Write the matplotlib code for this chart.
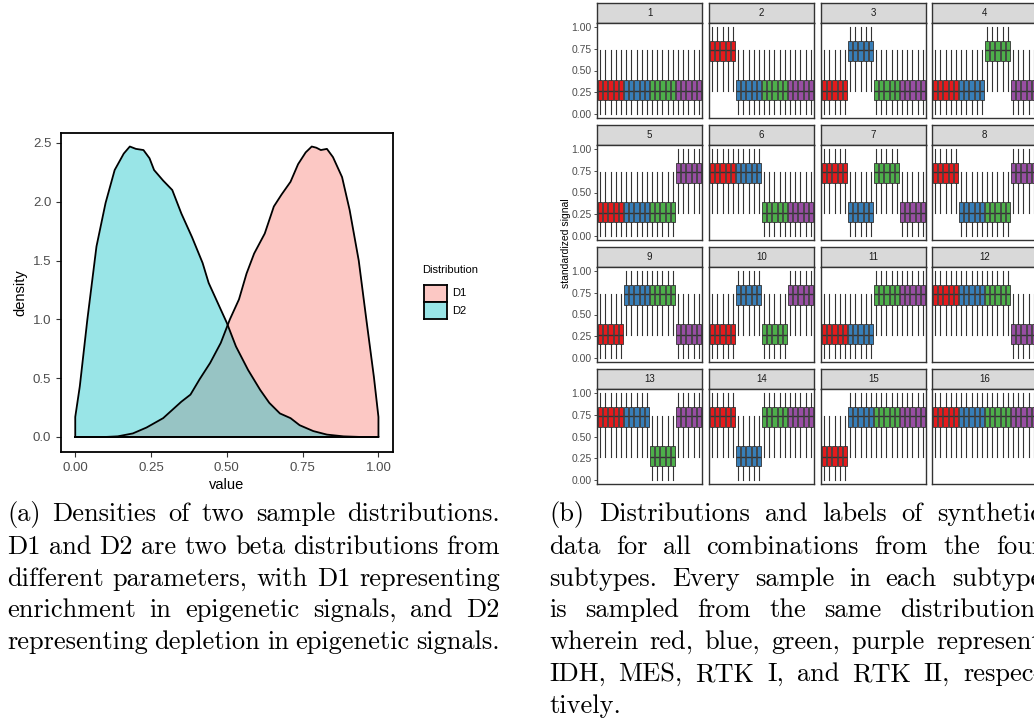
import matplotlib
matplotlib.use("Agg")
import matplotlib.pyplot as plt
from matplotlib.patches import Rectangle

# --- Data -----------------------------------------------------------------

# panel (a): density curves
D1_X = [0.00, 0.10, 0.14, 0.19, 0.235, 0.29, 0.32, 0.35, 0.38, 0.41, 0.445, 0.48, 0.51,
        0.54, 0.565, 0.59, 0.625, 0.655, 0.68, 0.71, 0.735, 0.76, 0.78, 0.795, 0.81,
        0.83, 0.85, 0.88, 0.905, 0.935, 0.96, 0.985, 1.00]
D1_Y = [0.00, 0.00, 0.005, 0.03, 0.08, 0.16, 0.23, 0.30, 0.36, 0.49, 0.63, 0.80, 1.00,
        1.17, 1.39, 1.56, 1.73, 1.96, 2.06, 2.17, 2.32, 2.42, 2.47, 2.46, 2.44,
        2.45, 2.38, 2.21, 1.93, 1.50, 1.00, 0.51, 0.17]
D2_X = [0.00, 0.015, 0.04, 0.07, 0.10, 0.13, 0.16, 0.18, 0.20, 0.225, 0.245, 0.26, 0.29,
        0.32, 0.35, 0.385, 0.42, 0.44, 0.47, 0.50, 0.53, 0.57, 0.61, 0.64,
        0.675, 0.71, 0.74, 0.785, 0.83, 0.885, 0.94, 1.00]
D2_Y = [0.17, 0.43, 1.00, 1.62, 1.99, 2.27, 2.41, 2.47, 2.45, 2.44, 2.37, 2.27, 2.18,
        2.10, 1.90, 1.70, 1.48, 1.31, 1.14, 0.97, 0.77, 0.57, 0.40, 0.29,
        0.20, 0.16, 0.10, 0.05, 0.02, 0.005, 0.0, 0.0]
DIST_NAMES = ["D1", "D2"]
DIST_COLORS = ["#F8766D", "#00BFC4"]

# panel (b): four subtypes, five samples each, 16 combinations of enrichment
SUBTYPES = ["IDH", "MES", "RTK I", "RTK II"]
SUBTYPE_COLORS = ["#E41A1C", "#377EB8", "#4DAF4A", "#984EA3"]
N_SAMPLES = 5
ENRICHED = [
    [], ["IDH"], ["MES"], ["RTK I"],
    ["RTK II"], ["IDH", "MES"], ["IDH", "RTK I"], ["IDH", "RTK II"],
    ["MES", "RTK I"], ["MES", "RTK II"], ["RTK I", "RTK II"], ["IDH", "MES", "RTK I"],
    ["IDH", "MES", "RTK II"], ["IDH", "RTK I", "RTK II"], ["MES", "RTK I", "RTK II"],
    ["IDH", "MES", "RTK I", "RTK II"],
]
# box statistics (whisker low, q1, median, q3, whisker high)
LOW_STATS = [0.00, 0.16, 0.27, 0.39, 0.73]
HIGH_STATS = [0.27, 0.61, 0.74, 0.84, 1.00]
Y_TICKS_B = [0.00, 0.25, 0.50, 0.75, 1.00]

CAPTION_A = [
    "(a) Densities of two sample distributions.",
    "D1 and D2 are two beta distributions from",
    "different parameters, with D1 representing",
    "enrichment in epigenetic signals, and D2",
    "representing depletion in epigenetic signals.",
]
CAPTION_B = [
    "(b) Distributions and labels of synthetic",
    "data for all combinations from the four",
    "subtypes. Every sample in each subtype",
    "is sampled from the same distribution,",
    "wherein red, blue, green, purple represent",
    "IDH, MES, RTK I, and RTK II, respec-",
    "tively.",
]

W, H = 1034, 722
SANS = "Liberation Sans"


def px_axes(fig, left, top, width, height):
    return fig.add_axes([left / W, 1 - (top + height) / H, width / W, height / H])


fig = plt.figure(figsize=(W / 100, H / 100), dpi=100)

# --- Panel (a) ------------------------------------------------------------
ax = px_axes(fig, 61, 133, 332, 319)
for xs, ys, c in [(D1_X, D1_Y, DIST_COLORS[0]), (D2_X, D2_Y, DIST_COLORS[1])]:
    ax.fill_between(xs, ys, 0, color=c, alpha=0.4, lw=0)
    ax.plot([xs[0]] + xs + [xs[-1], xs[0]], [0] + ys + [0, 0], color="black", lw=1.3,
            solid_joinstyle="round")
ax.set_xlim(-0.047, 1.048)
ax.set_ylim(-0.128, 2.585)
ax.set_xticks([0, 0.25, 0.5, 0.75, 1.0])
ax.set_xticklabels(["0.00", "0.25", "0.50", "0.75", "1.00"])
ax.set_yticks([0, 0.5, 1.0, 1.5, 2.0, 2.5])
ax.set_yticklabels(["0.0", "0.5", "1.0", "1.5", "2.0", "2.5"])
ax.tick_params(labelsize=9.5, labelcolor="#4D4D4D", color="#333333", length=3.5, width=0.8)
for lab in ax.get_xticklabels() + ax.get_yticklabels():
    lab.set_family(SANS)
for s in ax.spines.values():
    s.set_linewidth(1.3)
ax.set_xlabel("value", family=SANS, fontsize=10.5, labelpad=3)
ax.set_ylabel("density", family=SANS, fontsize=10.5, labelpad=4)

# legend drawn by hand in pixel space
fig.text(422 / W, 1 - 270 / H, "Distribution", family=SANS, fontsize=8, va="center")
for i, (name, c) in enumerate(zip(DIST_NAMES, DIST_COLORS)):
    y0 = 285 + i * 17
    lax = px_axes(fig, 424, y0, 23, 17)
    lax.set_xlim(0, 1)
    lax.set_ylim(0, 1)
    lax.add_patch(Rectangle((0, 0), 1, 1, facecolor=c, alpha=0.4, lw=0))
    lax.set_xticks([])
    lax.set_yticks([])
    for s in lax.spines.values():
        s.set_linewidth(1.3)
    fig.text(452 / W, 1 - (y0 + 8.5) / H, name, family=SANS, fontsize=8, va="center")

# --- Panel (b) ------------------------------------------------------------
COL_X = [597, 709, 821, 932]
ROW_Y = [3, 125, 247, 369]
PANEL_W, STRIP_H, PANEL_H = 105, 20, 95

for k, enriched in enumerate(ENRICHED):
    r, c = divmod(k, 4)
    left, top = COL_X[c], ROW_Y[r]
    sax = px_axes(fig, left, top, PANEL_W, STRIP_H)
    sax.set_facecolor("#D9D9D9")
    sax.set_xticks([])
    sax.set_yticks([])
    for s in sax.spines.values():
        s.set_color("#333333")
        s.set_linewidth(1.0)
    sax.text(0.5, 0.48, str(k + 1), transform=sax.transAxes, ha="center", va="center",
             family=SANS, fontsize=7, color="#1A1A1A")

    pax = px_axes(fig, left, top + STRIP_H, PANEL_W, PANEL_H)
    stats, colors = [], []
    for name, col in zip(SUBTYPES, SUBTYPE_COLORS):
        v = HIGH_STATS if name in enriched else LOW_STATS
        for _ in range(N_SAMPLES):
            stats.append(dict(whislo=v[0], q1=v[1], med=v[2], q3=v[3], whishi=v[4], fliers=[]))
            colors.append(col)
    pos = list(range(1, len(stats) + 1))
    bp = pax.bxp(stats, positions=pos, widths=0.82, patch_artist=True, showcaps=False,
                 boxprops=dict(edgecolor="#333333", linewidth=0.6),
                 whiskerprops=dict(color="#333333", linewidth=0.8),
                 medianprops=dict(color="#333333", linewidth=1.0))
    for patch, col in zip(bp["boxes"], colors):
        patch.set_facecolor(col)
    pax.set_xlim(0.4, len(stats) + 0.6)
    pax.set_ylim(-0.046, 1.046)
    pax.set_xticks([])
    for s in pax.spines.values():
        s.set_color("#333333")
        s.set_linewidth(1.0)
    if c == 0:
        pax.set_yticks(Y_TICKS_B)
        pax.set_yticklabels([f"{t:.2f}" for t in Y_TICKS_B])
        pax.tick_params(axis="y", labelsize=7.5, labelcolor="#4D4D4D", color="#333333",
                        length=2.5, width=0.6, pad=1.5)
        for lab in pax.get_yticklabels():
            lab.set_family(SANS)
    else:
        pax.set_yticks([])

fig.text(566 / W, 1 - 243 / H, "standardized signal", family=SANS, fontsize=7.5,
         rotation=90, ha="center", va="center")

# --- Captions (justified) -------------------------------------------------
CAP_SIZE = 19
LINE_Y = [521, 553.5, 586, 617, 649, 681, 713]


def caption(x0, width, lines, justify_last):
    renderer = fig.canvas.get_renderer()
    for i, line in enumerate(lines):
        words = line.split(" ")
        y = 1 - LINE_Y[i] / H
        texts = [fig.text(0, y, w, family="cmr10", fontsize=CAP_SIZE, va="baseline")
                 for w in words]
        widths = [t.get_window_extent(renderer).width for t in texts]
        last = i == len(lines) - 1
        if len(words) > 1 and (not last or justify_last):
            gap = (width - sum(widths)) / (len(words) - 1)
        else:
            gap = renderer.points_to_pixels(CAP_SIZE) * 0.33
        x = x0
        for t, w in zip(texts, widths):
            t.set_x(x / W)
            x += w + gap


caption(7, 493, CAPTION_A, True)
caption(549, 493, CAPTION_B, False)

fig.savefig("out.png", dpi=100)
